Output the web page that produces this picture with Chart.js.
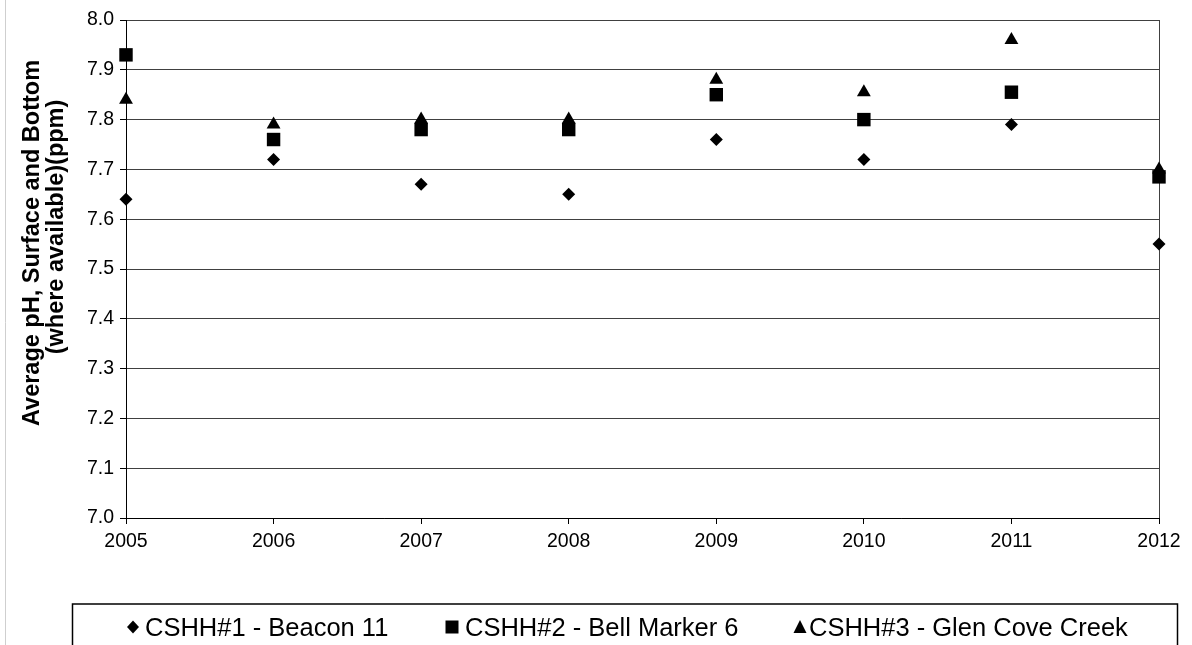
<!DOCTYPE html>
<html>
<head>
<meta charset="utf-8">
<script src="https://cdn.jsdelivr.net/npm/chart.js@4.4.1/dist/chart.umd.min.js"></script>
<style>
  html, body { margin: 0; padding: 0; background: #fff; }
  #wrap { width: 1192px; height: 645px; position: relative; }
</style>
</head>
<body>
<div id="wrap"><canvas id="c" width="1192" height="645"></canvas></div>
<script>
const years = [2005, 2006, 2007, 2008, 2009, 2010, 2011, 2012];
const beacon11 = [7.64, 7.72, 7.67, 7.65, 7.76, 7.72, 7.79, 7.55];
const bellMarker6 = [7.93, 7.76, 7.78, 7.78, 7.85, 7.80, 7.855, 7.685];
const glenCoveCreek = [7.84, 7.79, 7.80, 7.80, 7.88, 7.855, 7.96, 7.70];
const seriesLabels = ['CSHH#1 - Beacon 11', 'CSHH#2 - Bell Marker 6', 'CSHH#3 - Glen Cove Creek'];
const yTitleLines = ['Average pH, Surface and Bottom', '(where available)(ppm)'];

const toPts = arr => years.map((y, i) => ({ x: y, y: arr[i] }));

const FONT = '"Liberation Sans", Arial, sans-serif';

const decor = {
  id: 'decor',
  afterDraw(chart) {
    const ctx = chart.ctx;
    ctx.save();
    // left faint border line
    ctx.strokeStyle = '#cfcfcf';
    ctx.lineWidth = 1;
    ctx.beginPath(); ctx.moveTo(5.5, 0); ctx.lineTo(5.5, 645); ctx.stroke();

    // y title (two rotated lines)
    ctx.fillStyle = '#000';
    ctx.font = 'bold 23.5px ' + FONT;
    ctx.textAlign = 'center';
    ctx.textBaseline = 'middle';
    const centers = [[33, 243], [57, 227]];
    yTitleLines.forEach((t, i) => {
      ctx.save();
      ctx.translate(centers[i][0], centers[i][1]);
      ctx.rotate(-Math.PI / 2);
      ctx.fillText(t, 0, 0);
      ctx.restore();
    });

    // legend box
    ctx.strokeStyle = '#000';
    ctx.lineWidth = 1.5;
    ctx.strokeRect(72.5, 604, 1105, 60);
    ctx.font = '25.5px ' + FONT;
    ctx.textAlign = 'left';
    ctx.textBaseline = 'alphabetic';
    const cy = 627;
    const items = [
      { mx: 133, tx: 145, shape: 'diamond' },
      { mx: 452, tx: 465, shape: 'square' },
      { mx: 800, tx: 809, shape: 'triangle' }
    ];
    items.forEach((it, i) => {
      ctx.beginPath();
      if (it.shape === 'diamond') {
        ctx.moveTo(it.mx - 6, cy); ctx.lineTo(it.mx, cy - 6.5);
        ctx.lineTo(it.mx + 6, cy); ctx.lineTo(it.mx, cy + 6.5);
      } else if (it.shape === 'square') {
        ctx.rect(it.mx - 6.5, cy - 6.5, 13, 13);
      } else {
        ctx.moveTo(it.mx, cy - 7); ctx.lineTo(it.mx + 6.5, cy + 6); ctx.lineTo(it.mx - 6.5, cy + 6);
      }
      ctx.closePath();
      ctx.fill();
      ctx.fillText(seriesLabels[i], it.tx, 636);
    });
    ctx.restore();
  }
};

new Chart(document.getElementById('c'), {
  type: 'scatter',
  data: {
    datasets: [
      { label: seriesLabels[0], data: toPts(beacon11), pointStyle: 'rectRot', pointRadius: 6.5, pointHoverRadius: 6.5,
        backgroundColor: '#000', borderColor: '#000', borderWidth: 0, clip: false },
      { label: seriesLabels[1], data: toPts(bellMarker6), pointStyle: 'rect', pointRadius: 9.5, pointHoverRadius: 9.5,
        backgroundColor: '#000', borderColor: '#000', borderWidth: 0, clip: false },
      { label: seriesLabels[2], data: toPts(glenCoveCreek), pointStyle: 'triangle', pointRadius: 8, pointHoverRadius: 8,
        backgroundColor: '#000', borderColor: '#000', borderWidth: 0, clip: false }
    ]
  },
  options: {
    responsive: false,
    animation: false,
    events: [],
    layout: { padding: { left: 0, right: 33, top: 20, bottom: 0 } },
    plugins: { legend: { display: false }, tooltip: { enabled: false }, title: { display: false } },
    scales: {
      x: {
        type: 'linear', min: 2005, max: 2012,
        ticks: { stepSize: 1, callback: v => String(v), color: '#000', font: { family: FONT, size: 19.5 }, padding: 6, maxRotation: 0 },
        grid: {
          drawOnChartArea: true,
          color: c => (c.tick && c.tick.value === 2012) ? '#404040' : 'rgba(0,0,0,0)',
          tickColor: '#000', tickLength: 6, lineWidth: 1
        },
        border: { color: '#000', width: 1 },
        afterFit(s) { s.height = 127; s.paddingLeft = 0; s.paddingRight = 0; }
      },
      y: {
        min: 7, max: 8,
        ticks: { stepSize: 0.1, callback: v => Number(v).toFixed(1), color: '#000', font: { family: FONT, size: 19.5 }, padding: 6 },
        grid: { color: '#404040', tickColor: '#000', tickLength: 6, lineWidth: 1 },
        border: { color: '#000', width: 1 },
        afterFit(s) { s.width = 126; s.paddingTop = 0; s.paddingBottom = 0; }
      }
    }
  },
  plugins: [decor]
});
</script>
</body>
</html>
